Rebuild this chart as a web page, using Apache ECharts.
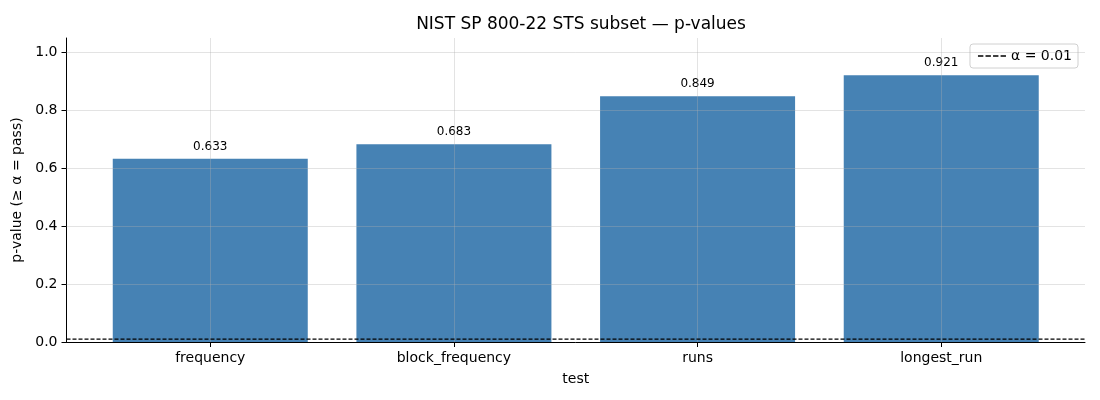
<!DOCTYPE html>
<html><head><meta charset="utf-8">
<script src="https://cdn.jsdelivr.net/npm/echarts@6/dist/echarts.min.js"></script>
<style>html,body{margin:0;padding:0;background:#fff}#c{width:1100px;height:400px}</style>
</head><body><div id="c"></div>
<script>
const categories = ['frequency', 'block_frequency', 'runs', 'longest_run'];
const pValues = [0.633, 0.683, 0.849, 0.921];
const alpha = 0.01;
const yTicks = [0, 0.2, 0.4, 0.6, 0.8, 1.0];

const xIdx = categories.map((_, i) => i);
const F = 'DejaVu Sans';
const gridColor = 'rgba(176,176,176,0.35)';

const chart = echarts.init(document.getElementById('c'), null, {renderer: 'canvas'});
chart.setOption({
  animation: false,
  title: {text: 'NIST SP 800-22 STS subset — p-values', left: 576, top: 11, textAlign: 'center',
    textStyle: {fontFamily: F, fontSize: 17, fontWeight: 'normal', color: '#000'}},
  grid: {left: 66.5, right: 15, top: 38, bottom: 58, containLabel: false},
  legend: {
    data: [{name: 'α = ' + alpha,
      icon: 'path://M0,0H5V1.5H0Z M7,0H12V1.5H7Z M14,0H19V1.5H14Z M21,0H26V1.5H21Z'}],
    right: 22, top: 44, orient: 'vertical',
    backgroundColor: '#fff', borderColor: '#d0d0d0', borderWidth: 1, borderRadius: 3,
    padding: [5, 6, 5, 8], itemWidth: 28, itemHeight: 10, itemGap: 4,
    itemStyle: {color: '#000'},
    textStyle: {fontFamily: F, fontSize: 14, color: '#000'}
  },
  xAxis: {
    type: 'value', min: -0.59, max: 3.59,
    name: 'test', nameLocation: 'middle', nameGap: 30,
    nameTextStyle: {fontFamily: F, fontSize: 14, color: '#000'},
    axisLine: {show: true, onZero: false, lineStyle: {color: '#000', width: 1}},
    axisTick: {show: true, customValues: xIdx, length: 5, lineStyle: {color: '#000'}},
    axisLabel: {customValues: xIdx, margin: 9, fontFamily: F, fontSize: 14, color: '#000',
      formatter: v => categories[Math.round(v)] || ''},
    splitLine: {show: false}
  },
  yAxis: {
    type: 'value', min: 0, max: 1.05,
    name: 'p-value (≥ α = pass)', nameLocation: 'middle', nameGap: 40,
    nameTextStyle: {fontFamily: F, fontSize: 14, color: '#000'},
    axisLine: {show: true, onZero: false, lineStyle: {color: '#000', width: 1}},
    axisTick: {show: true, customValues: yTicks, length: 5, lineStyle: {color: '#000'}},
    axisLabel: {customValues: yTicks, margin: 9, fontFamily: F, fontSize: 14, color: '#000',
      formatter: v => v.toFixed(1)},
    splitLine: {show: false}
  },
  series: [
    {
      type: 'bar', name: 'p', barWidth: 195, z: 2,
      data: pValues.map((v, i) => [i, v]),
      itemStyle: {color: '#4682B4'},
      label: {show: true, position: 'top', distance: 6, fontFamily: F, fontSize: 12, color: '#000',
        formatter: p => p.value[1].toFixed(3)}
    },
    {
      type: 'line', name: 'grid', data: [], z: 5, silent: true,
      markLine: {
        silent: true, symbol: 'none', label: {show: false},
        lineStyle: {color: gridColor, width: 1, type: 'solid'},
        data: xIdx.map(i => ({xAxis: i})).concat(yTicks.slice(1).map(v => ({yAxis: v})))
      }
    },
    {
      type: 'line', name: 'α = ' + alpha, z: 6, symbol: 'none', silent: true,
      data: [[-0.59, alpha], [3.59, alpha]],
      lineStyle: {color: '#000', width: 1.1, type: [4, 2]},
      itemStyle: {color: '#000'}
    }
  ]
});
</script></body></html>
